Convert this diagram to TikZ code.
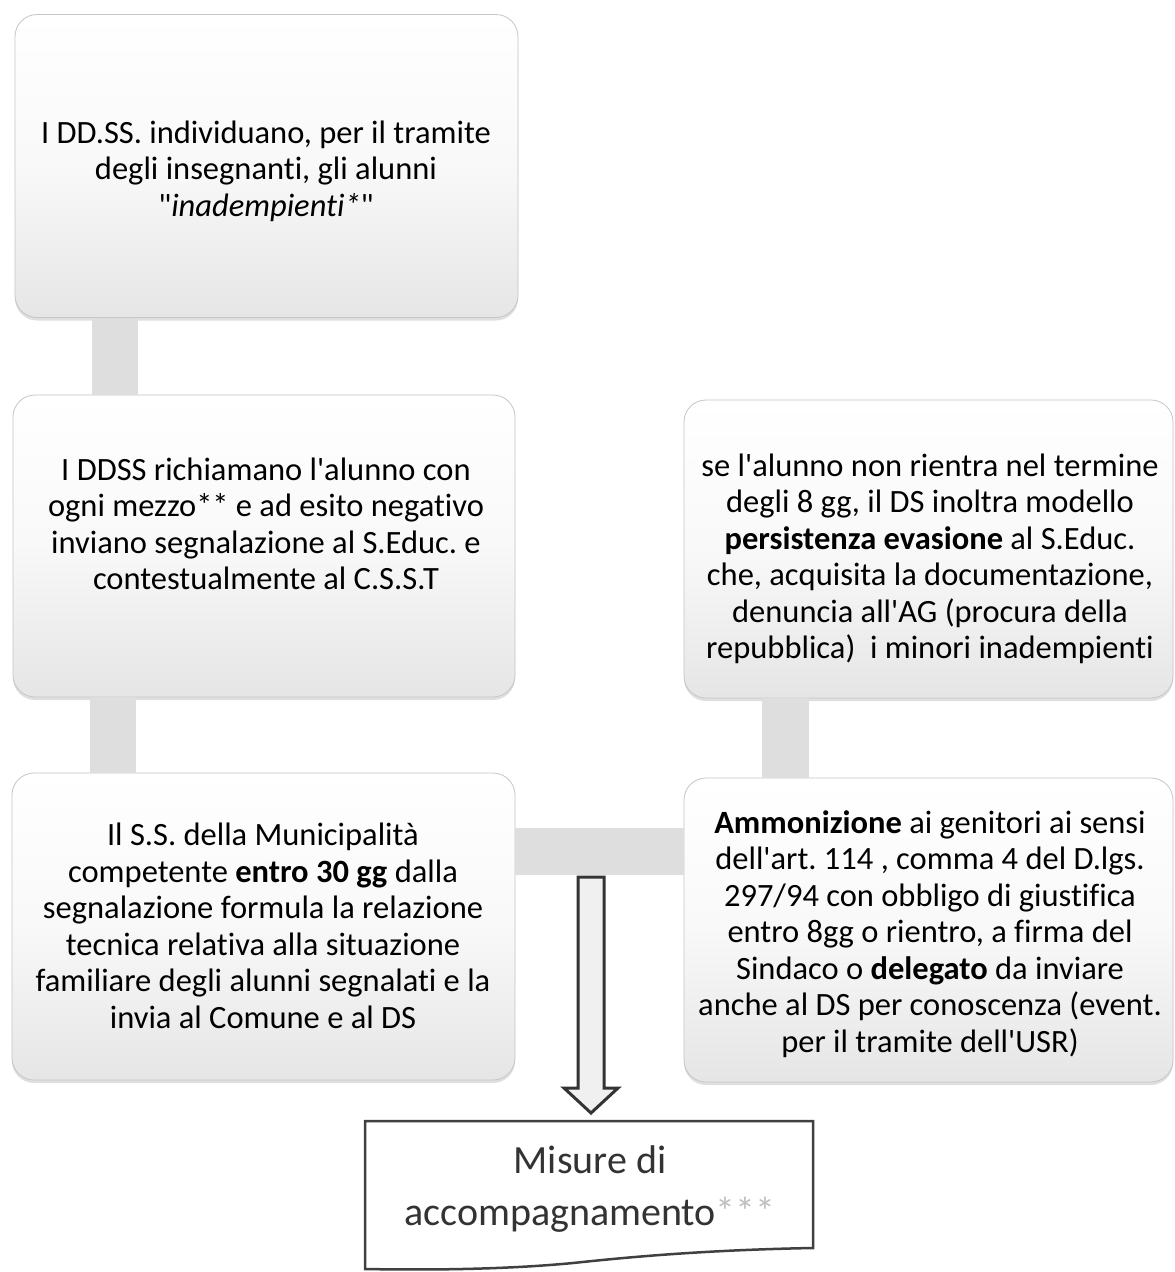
\documentclass[tikz,border=0pt]{standalone}
\usepackage{fontspec}
\setmainfont{Carlito}[Ligatures={TeXOff,NoCommon}]
\usetikzlibrary{shadows}
\frenchspacing
\begin{document}
\begin{tikzpicture}[x=1pt,y=-1pt,
 box/.style={rectangle, rounded corners=22pt, draw=gray!45, line width=0.8pt, top color=white, bottom color=gray!20, middle color=white!95!gray, drop shadow={shadow xshift=0pt, shadow yshift=-3pt, opacity=0.35, fill=gray!70}, inner sep=0pt},
 txt/.style={align=center, font=\fontsize{32.5}{36.5}\selectfont, text=black, inner sep=0pt},
 doctxt/.style={align=center, font=\fontsize{40}{52}\selectfont, text=black!80, inner sep=0pt},
 bar/.style={draw=gray!26},
 hollow/.style={draw=black!80, fill=gray!12, line width=3pt, line join=miter},
 docline/.style={draw=black!75, line width=2.5pt},
]
\fill[white] (0,0) rectangle (1175,1272);
\useasboundingbox (0,0) rectangle (1175,1272);

\coordinate (cx1) at (115,0);
\coordinate (cx2) at (113,0);
\coordinate (cxr) at (785,0);
\coordinate (cyh) at (0,851);

% boxes
\node[box, minimum width=503pt, minimum height=303pt] (b1) at (266.5,166) {};
\node[box, minimum width=502pt, minimum height=302pt] (b2) at (264,546) {};
\node[box, minimum width=503pt, minimum height=307pt] (b3) at (263.5,926.5) {};
\node[box, minimum width=489pt, minimum height=298pt] (r1) at (928.5,549) {};
\node[box, minimum width=489pt, minimum height=304pt] (r2) at (928.5,930) {};

% connectors
\draw[bar, line width=46pt] (b1.south -| cx1) -- (b2.north -| cx1);
\draw[bar, line width=46pt] (b2.south -| cx2) -- (b3.north -| cx2);
\draw[bar, line width=47pt] (r1.south -| cxr) -- (r2.north -| cxr);
\draw[bar, line width=47pt] (b3.east |- cyh) -- (r2.west |- cyh);

% texts
\node[txt] (t1) at (266,171) {I DD.SS. individuano, per il tramite\\degli insegnanti, gli alunni\\"\textit{inadempienti*}"};
\node[txt] (t2) at (266,524) {I DDSS richiamano l'alunno con\\ogni mezzo** e ad esito negativo\\inviano segnalazione al S.Educ. e\\contestualmente al C.S.S.T};
\node[txt] (t3) at (263,926) {Il S.S. della Municipalità\\competente \textbf{entro 30 gg} dalla\\segnalazione formula la relazione\\tecnica relativa alla situazione\\familiare degli alunni segnalati e la\\invia al Comune e al DS};
\node[txt] (tr1) at (930,559) {se l'alunno non rientra nel termine\\degli 8 gg, il DS inoltra modello\\\textbf{persistenza evasione} al S.Educ.\\che, acquisita la documentazione,\\denuncia all'AG (procura della\\repubblica)\ \ i minori inadempienti};
\node[txt] (tr2) at (930,934) {\textbf{Ammonizione} ai genitori ai sensi\\dell'art. 114 , comma 4 del D.lgs.\\297/94 con obbligo di giustifica\\entro 8gg o rientro, a firma del\\Sindaco o \textbf{delegato} da inviare\\anche al DS per conoscenza (event.\\per il tramite dell'USR)};

% hollow arrow
\coordinate (a0) at (591,877);
\draw[hollow] (a0) ++(-13,0) -- ++(26,0) -- ++(0,211) -- ++(14,0) -- ++(-27,25) -- ++(-27,-25) -- ++(14,0) -- cycle;

% document shape
\draw[docline] (365,1121) -- (813,1121) -- (813,1248)
  .. controls (700,1250) and (620,1258) .. (573,1263)
  .. controls (500,1270) and (420,1270) .. (365,1269) -- cycle;
\node[doctxt] (doc) at (590,1189) {Misure di\\accompagnamento\textcolor{gray!50}{***}};
\end{tikzpicture}
\end{document}
